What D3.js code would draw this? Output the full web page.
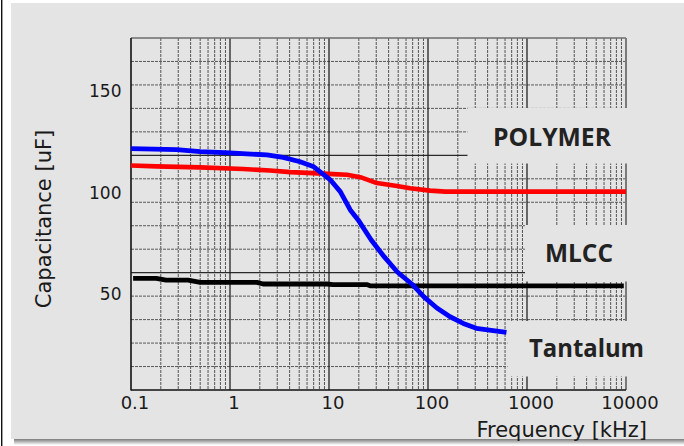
<!DOCTYPE html>
<html>
<head>
<meta charset="utf-8">
<script src="https://cdn.jsdelivr.net/npm/d3@7"></script>
<style>
  html, body { margin: 0; padding: 0; background: #ffffff; }
  svg { display: block; }
</style>
</head>
<body>
<script>
// ---------------- data ----------------
const xTickValues = [0.1, 1, 10, 100, 1000, 10000];
const xTickLabels = ["0.1", "1", "10", "100", "1000", "10000"];
const yTickValues = [50, 100, 150];
const yTickLabels = ["50", "100", "150"];

const seriesNames = ["POLYMER", "MLCC", "Tantalum"];

const freqPolymer = [0.1, 0.18, 0.5, 1.36, 2.54, 4.05, 6.9, 11, 15.2, 20.7, 30.5, 48.6, 66, 105, 150, 10000];
const capPolymer  = [113.3, 112.9, 112.4, 111.6, 110.9, 110.1, 109.6, 109.1, 108.8, 107.6, 104.7, 103.3, 102.2, 101.0, 100.5, 100.5];

const freqMLCC = [0.105, 0.18, 0.226, 0.377, 0.5, 1.87, 2.16, 9.5, 11, 24, 26, 9500];
const capMLCC  = [57.9, 57.9, 57.0, 57.0, 55.9, 55.9, 55.1, 55.1, 54.8, 54.8, 54.2, 54.2];

const freqTantalum = [0.1, 0.29, 0.5, 1.0, 1.48, 2.36, 3.44, 5.11, 6.92, 10.3, 13.0, 16.4, 19.7, 26.7, 36.2, 49, 70.5, 91, 123, 167, 227, 308, 417, 620];
const capTantalum  = [121.6, 121.1, 120.2, 119.5, 119.0, 118.6, 117.3, 115.2, 112.9, 106.3, 100.5, 91.5, 86.6, 76.7, 68.4, 61.0, 54.6, 48.8, 43.3, 39.0, 35.7, 33.3, 32.4, 31.3];

// ---------------- layout ----------------
const W = 684, H = 446;
const plot = { left: 131, right: 626, top: 38, bottom: 390 };
const gridRows = 15, majorEvery = 5;

const svg = d3.select("body").append("svg").attr("width", W).attr("height", H);

// outer frame
const defs = svg.append("defs");
const sh = defs.append("linearGradient").attr("id", "shadow").attr("x1", 0).attr("y1", 0).attr("x2", 0).attr("y2", 1);
sh.append("stop").attr("offset", "0%").attr("stop-color", "#7a7a7a");
sh.append("stop").attr("offset", "100%").attr("stop-color", "#ffffff");
svg.append("rect").attr("x", 14).attr("y", 439).attr("width", W - 14).attr("height", 6).attr("fill", "url(#shadow)");
svg.append("rect").attr("x", 11).attr("y", 3).attr("width", W - 11).attr("height", 436).attr("fill", "#e4e4e4");
svg.append("rect").attr("x", 1).attr("y", 0).attr("width", 1.4).attr("height", H).attr("fill", "#111");

// scales
const x = d3.scaleLog().domain([0.1, 10000]).range([plot.left, plot.right]);
const y = d3.scaleLinear().domain([3, 176]).range([plot.bottom, plot.top]);
const gridY = d3.scaleLinear().domain([0, gridRows]).range([plot.bottom, plot.top]);

// grid
const grid = svg.append("g");
const minorX = [];
for (let d = -1; d < 4; d++) for (let k = 2; k <= 9; k++) minorX.push(k * Math.pow(10, d));
grid.selectAll("line.vmin").data(minorX).join("line")
  .attr("x1", d => x(d)).attr("x2", d => x(d))
  .attr("y1", plot.top).attr("y2", plot.bottom)
  .attr("stroke", "#555").attr("stroke-width", 1).attr("stroke-dasharray", "3,1");
const rows = d3.range(1, gridRows);
grid.selectAll("line.hmin").data(rows).join("line")
  .attr("x1", plot.left).attr("x2", plot.right)
  .attr("y1", d => gridY(d)).attr("y2", d => gridY(d))
  .attr("stroke", d => d % majorEvery === 0 ? "#2a2a2a" : "#5a5a5a")
  .attr("stroke-width", d => d % majorEvery === 0 ? 1.2 : 1)
  .attr("stroke-dasharray", d => d % majorEvery === 0 ? null : "3,1");
grid.selectAll("line.vmaj").data(xTickValues.slice(1, 5)).join("line")
  .attr("x1", d => x(d)).attr("x2", d => x(d))
  .attr("y1", plot.top).attr("y2", plot.bottom)
  .attr("stroke", "#222").attr("stroke-width", 1.3);
// top and right border
grid.append("line").attr("x1", plot.left).attr("x2", plot.right).attr("y1", plot.top).attr("y2", plot.top)
  .attr("stroke", "#6e6e6e").attr("stroke-width", 1.5);
grid.append("line").attr("x1", plot.right).attr("x2", plot.right).attr("y1", plot.top).attr("y2", plot.bottom)
  .attr("stroke", "#7a7a7a").attr("stroke-width", 2);

// label boxes (cover grid)
const boxes = [
  { name: seriesNames[0], x0: 467.5, y0: 108, y1: 163.5, tx: 552, ty: 146, tw: 118 },
  { name: seriesNames[1], x0: 525, y0: 225, y1: 281.5, tx: 579, ty: 261.7, tw: 68 },
  { name: seriesNames[2], x0: 507.5, y0: 321, y1: 376.5, tx: 586.5, ty: 357.3, tw: 115 }
];
svg.selectAll("rect.box").data(boxes).join("rect")
  .attr("x", d => d.x0).attr("y", d => d.y0)
  .attr("width", d => 660 - d.x0).attr("height", d => d.y1 - d.y0)
  .attr("fill", "#e4e4e4");
svg.selectAll("text.lbl").data(boxes).join("text")
  .attr("x", d => d.tx).attr("y", d => d.ty)
  .attr("text-anchor", "middle")
  .attr("textLength", d => d.tw).attr("lengthAdjust", "spacingAndGlyphs")
  .attr("font-family", "'Open Sans', sans-serif").attr("font-weight", "bold")
  .attr("font-size", 25.5).attr("fill", "#222")
  .text(d => d.name);

// axes lines
svg.append("line").attr("x1", plot.left).attr("x2", plot.left).attr("y1", plot.top).attr("y2", plot.bottom + 0.5)
  .attr("stroke", "#111").attr("stroke-width", 1.6);
svg.append("line").attr("x1", plot.left).attr("x2", plot.right).attr("y1", plot.bottom).attr("y2", plot.bottom)
  .attr("stroke", "#111").attr("stroke-width", 1.6);

// tick labels
svg.selectAll("text.xt").data(xTickValues).join("text")
  .attr("x", d => x(d) + 4).attr("y", 409.3)
  .attr("text-anchor", "middle")
  .attr("font-family", "'DejaVu Sans', sans-serif").attr("font-size", 18).attr("fill", "#1a1a1a")
  .text((d, i) => xTickLabels[i]);
svg.selectAll("text.yt").data(yTickValues).join("text")
  .attr("x", 121.5).attr("y", d => y(d)).attr("dy", "0.36em")
  .attr("text-anchor", "end")
  .attr("font-family", "'DejaVu Sans', sans-serif").attr("font-size", 17).attr("fill", "#1a1a1a")
  .text((d, i) => yTickLabels[i]);

// axis titles
svg.append("text").attr("x", 647).attr("y", 436.7).attr("text-anchor", "end")
  .attr("font-family", "'DejaVu Sans', sans-serif").attr("font-size", 21).attr("fill", "#1a1a1a")
  .text("Frequency [kHz]");
svg.append("text").attr("transform", "translate(50.5,219) rotate(-90)").attr("text-anchor", "middle")
  .attr("font-family", "'DejaVu Sans', sans-serif").attr("font-size", 21).attr("fill", "#1a1a1a")
  .text("Capacitance [uF]");

// series
const line = d3.line().x(d => x(d[0])).y(d => y(d[1]));
const series = [
  { f: freqPolymer, c: capPolymer, color: "#ff0000", w: 4.6 },
  { f: freqMLCC, c: capMLCC, color: "#000000", w: 4.8 },
  { f: freqTantalum, c: capTantalum, color: "#0000ff", w: 4.8 }
];
svg.selectAll("path.s").data(series).join("path")
  .attr("d", s => line(d3.zip(s.f, s.c)))
  .attr("fill", "none").attr("stroke", s => s.color).attr("stroke-width", s => s.w)
  .attr("stroke-linejoin", "round");
</script>
</body>
</html>
